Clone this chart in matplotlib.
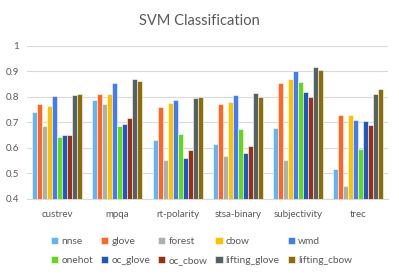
import numpy as np
import matplotlib.pyplot as plt

plt.rcParams['font.family'] = ['Lato', 'DejaVu Sans']

datasets = ['custrev', 'mpqa', 'rt-polarity', 'stsa-binary', 'subjectivity', 'trec']
methods = ['nnse', 'glove', 'forest', 'cbow', 'wmd',
           'onehot', 'oc_glove', 'oc_cbow', 'lifting_glove', 'lifting_cbow']
colors = ['#63B4F4', '#FF6622', '#A8B2AE', '#FFC000', '#437BF3',
          '#66D61A', '#1D58C2', '#993011', '#566165', '#8C6D0C']

# accuracy per method, one value per dataset
nnse = [0.739, 0.787, 0.632, 0.616, 0.678, 0.517]
glove = [0.770, 0.809, 0.758, 0.772, 0.854, 0.729]
forest = [0.687, 0.770, 0.551, 0.567, 0.551, 0.450]
cbow = [0.764, 0.809, 0.774, 0.779, 0.870, 0.728]
wmd = [0.803, 0.853, 0.787, 0.807, 0.901, 0.708]
onehot = [0.643, 0.687, 0.653, 0.674, 0.859, 0.595]
oc_glove = [0.651, 0.692, 0.562, 0.579, 0.820, 0.704]
oc_cbow = [0.649, 0.718, 0.591, 0.609, 0.799, 0.689]
lifting_glove = [0.807, 0.870, 0.796, 0.814, 0.917, 0.811]
lifting_cbow = [0.811, 0.862, 0.801, 0.799, 0.903, 0.829]

values = [nnse, glove, forest, cbow, wmd, onehot, oc_glove, oc_cbow,
          lifting_glove, lifting_cbow]

fig = plt.figure(figsize=(3.99, 2.77), dpi=100)
ax = fig.add_axes([0.068, 0.282, 0.905, 0.553])

x = np.arange(len(datasets))
w = 0.083
bars = []
for i, (m, v) in enumerate(zip(methods, values)):
    b = ax.bar(x + (i - 4.5) * w, v, w, color=colors[i], label=m,
               edgecolor='white', linewidth=0.4, zorder=3)
    bars.append(b)

ax.set_ylim(0.4, 1.0)
ax.set_xlim(-0.5, 5.5)
ax.set_yticks([0.4, 0.5, 0.6, 0.7, 0.8, 0.9, 1.0])
ax.set_yticklabels(['0.4', '0.5', '0.6', '0.7', '0.8', '0.9', '1'])
ax.set_xticks(x)
ax.set_xticklabels(datasets)
ax.tick_params(axis='y', length=0, labelsize=7, colors='#595959', pad=6)
ax.tick_params(axis='x', length=0, labelsize=7, colors='#595959', pad=8)
ax.grid(axis='y', color='#D9D9D9', linewidth=0.8, zorder=0)
for s in ['top', 'right', 'left']:
    ax.spines[s].set_visible(False)
ax.spines['bottom'].set_color('#D9D9D9')

fig.text(0.5, 0.925, 'SVM Classification', ha='center', va='center',
         fontsize=10.5, color='#595959')

# legend is filled column by column, so reorder to read row by row
order = [0, 5, 1, 6, 2, 7, 3, 8, 4, 9]
fig.legend([bars[k] for k in order], [methods[k] for k in order],
           loc='center', bbox_to_anchor=(0.505, 0.093), ncol=5, frameon=False,
           fontsize=7.3, labelcolor='#595959', handlelength=0.7, handleheight=0.7,
           handletextpad=0.3, columnspacing=0.8, labelspacing=1.0)

fig.savefig('out.png', dpi=100)
